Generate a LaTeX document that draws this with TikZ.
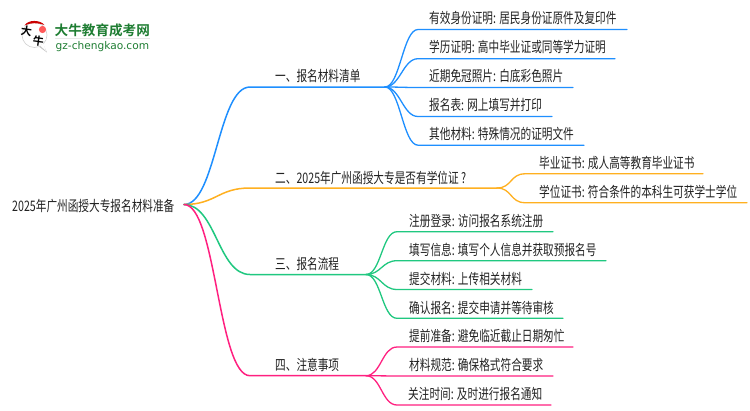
\documentclass[tikz,border=0pt]{standalone}
\usepackage{fontspec}
\newfontfamily\cjk[FakeStretch=0.735]{Noto Sans CJK SC}
\newfontfamily\cjkroot[FakeStretch=0.735]{Noto Sans CJK SC}
\newfontfamily\cjklogo[FakeStretch=1.0]{Noto Sans CJK SC Bold}
\newfontfamily\latlogo{DejaVu Sans}
\definecolor{cblue}{HTML}{1E8FFF}
\definecolor{corange}{HTML}{FFB020}
\definecolor{cgreen}{HTML}{20C880}
\definecolor{cpink}{HTML}{FF2080}
\definecolor{ctext}{HTML}{222222}
\definecolor{clogo}{HTML}{1E7D32}
\tikzset{
  lab/.style={anchor=base west,inner sep=0pt,text=ctext,font=\cjk\fontsize{14.5}{15}\selectfont},
  rootlab/.style={anchor=base west,inner sep=0pt,text=ctext,font=\cjkroot\fontsize{14.5}{15}\selectfont},
  main/.style={line width=1.5pt,line cap=round},
  sub/.style={line width=1.3pt,line cap=round},
  pt/.style={inner sep=0pt,minimum size=0pt}
}
\newcommand{\bend}[2]{(#1) .. controls +(32,0) and +(-32,0) .. (#2)}
\newcommand{\bendb}[2]{(#1) .. controls +(15,0) and +(-15,0) .. (#2)}
\begin{document}
\begin{tikzpicture}[x=1pt,y=-1pt]
\useasboundingbox (0,0) rectangle (750,410);
\fill[white] (0,0) rectangle (750,410);

% logo
\fill[gray!45] (38,46) -- (47,52.5) -- (43,44) -- cycle;
\fill[white,draw=gray!35,line width=.6pt] (34.5,35) circle (12.5);
\fill[white] (40,45.5) -- (46,51) -- (43.5,43.5) -- cycle;
\fill[red!80!black] (24.5,25.5) .. controls (28,19.5) and (40,19.5) .. (44.5,25) .. controls (38,22.5) and (30,22.5) .. (24.5,25.5) -- cycle;
\fill[red!65!white] (42.5,29.5) circle (3.6);
\node[pt,font=\cjklogo\fontsize{11}{11}\selectfont,rotate=-8] (logoa) at (26.5,31) {大};
\node[pt,font=\cjklogo\fontsize{11}{11}\selectfont,rotate=-8] (logob) at (38.5,41.5) {牛};
\node[pt,anchor=base west,text=clogo,font=\cjklogo\fontsize{13.6}{14}\selectfont] (logoc) at (54.5,35.5) {大牛教育成考网};
\fill[gray!18] (55,38) rectangle (150,39.2);
\node[pt,anchor=base west,text=clogo,font=\latlogo\fontsize{10.6}{11}\selectfont] (logod) at (55.5,49) {gz-chengkao.com};

% junctions
\coordinate (root) at (184,204.5);
\coordinate (ja) at (385,87);
\coordinate (jb) at (497,188);
\coordinate (jc) at (366,274.5);
\coordinate (jd) at (366,375.7);
\coordinate (sa) at (250,87);
\coordinate (sb) at (250,188);
\coordinate (sc) at (250,274.5);
\coordinate (sd) at (250,375.7);

% branch ends
\coordinate (a1s) at (418,29.5); \coordinate (a1e) at (627,29.5);
\coordinate (a2s) at (418,58.7); \coordinate (a2e) at (615,58.7);
\coordinate (a3s) at (418,87.5); \coordinate (a3e) at (573,87.5);
\coordinate (a4s) at (418,116.5); \coordinate (a4e) at (552,116.5);
\coordinate (a5s) at (418,145.2); \coordinate (a5e) at (584,145.2);
\coordinate (b1s) at (525,173.8); \coordinate (b1e) at (703,173.8);
\coordinate (b2s) at (525,202.7); \coordinate (b2e) at (747,202.7);
\coordinate (c1s) at (397,231.7); \coordinate (c1e) at (553,231.7);
\coordinate (c2s) at (397,260.7); \coordinate (c2e) at (606,260.7);
\coordinate (c3s) at (397,289.5); \coordinate (c3e) at (532,289.5);
\coordinate (c4s) at (397,318.3); \coordinate (c4e) at (563,318.3);
\coordinate (d1s) at (397,347); \coordinate (d1e) at (573,347);
\coordinate (d2s) at (397,376); \coordinate (d2e) at (553,376);
\coordinate (d3s) at (397,405); \coordinate (d3e) at (551,405);

% connectors
\draw[main,cblue] \bend{root}{sa} -- (ja);
\draw[sub,cblue] \bendb{ja}{a1s} -- (a1e);
\draw[sub,cblue] \bendb{ja}{a2s} -- (a2e);
\draw[sub,cblue] \bendb{ja}{a3s} -- (a3e);
\draw[sub,cblue] \bendb{ja}{a4s} -- (a4e);
\draw[sub,cblue] \bendb{ja}{a5s} -- (a5e);
\draw[main,corange] \bend{root}{sb} -- (jb);
\draw[sub,corange] \bendb{jb}{b1s} -- (b1e);
\draw[sub,corange] \bendb{jb}{b2s} -- (b2e);
\draw[main,cgreen] \bend{root}{sc} -- (jc);
\draw[sub,cgreen] \bendb{jc}{c1s} -- (c1e);
\draw[sub,cgreen] \bendb{jc}{c2s} -- (c2e);
\draw[sub,cgreen] \bendb{jc}{c3s} -- (c3e);
\draw[sub,cgreen] \bendb{jc}{c4s} -- (c4e);
\draw[main,cpink] \bend{root}{sd} -- (jd);
\draw[sub,cpink] \bendb{jd}{d1s} -- (d1e);
\draw[sub,cpink] \bendb{jd}{d2s} -- (d2e);
\draw[sub,cpink] \bendb{jd}{d3s} -- (d3e);

% labels
\node[rootlab] (nroot) at (12,211) {2025年广州函授大专报名材料准备};
\node[lab] (na) at (275,81) {一、报名材料清单};
\node[lab] (nb) at (275,183) {二、2025年广州函授大专是否有学位证 ?};
\node[lab] (nc) at (275,269) {三、报名流程};
\node[lab] (nd) at (275,370) {四、注意事项};
\node[lab] (a1) at (429,23.5) {有效身份证明: 居民身份证原件及复印件};
\node[lab] (a2) at (429,52.5) {学历证明: 高中毕业证或同等学力证明};
\node[lab] (a3) at (429,81.5) {近期免冠照片: 白底彩色照片};
\node[lab] (a4) at (429,110.5) {报名表: 网上填写并打印};
\node[lab] (a5) at (429,139) {其他材料: 特殊情况的证明文件};
\node[lab] (b1) at (539,168) {毕业证书: 成人高等教育毕业证书};
\node[lab] (b2) at (539,197) {学位证书: 符合条件的本科生可获学士学位};
\node[lab] (c1) at (409,226) {注册登录: 访问报名系统注册};
\node[lab] (c2) at (409,255) {填写信息: 填写个人信息并获取预报名号};
\node[lab] (c3) at (409,284) {提交材料: 上传相关材料};
\node[lab] (c4) at (409,313) {确认报名: 提交申请并等待审核};
\node[lab] (d1) at (409,341.5) {提前准备: 避免临近截止日期匆忙};
\node[lab] (d2) at (409,370.5) {材料规范: 确保格式符合要求};
\node[lab] (d3) at (408,399.5) {关注时间: 及时进行报名通知};
\end{tikzpicture}
\end{document}
